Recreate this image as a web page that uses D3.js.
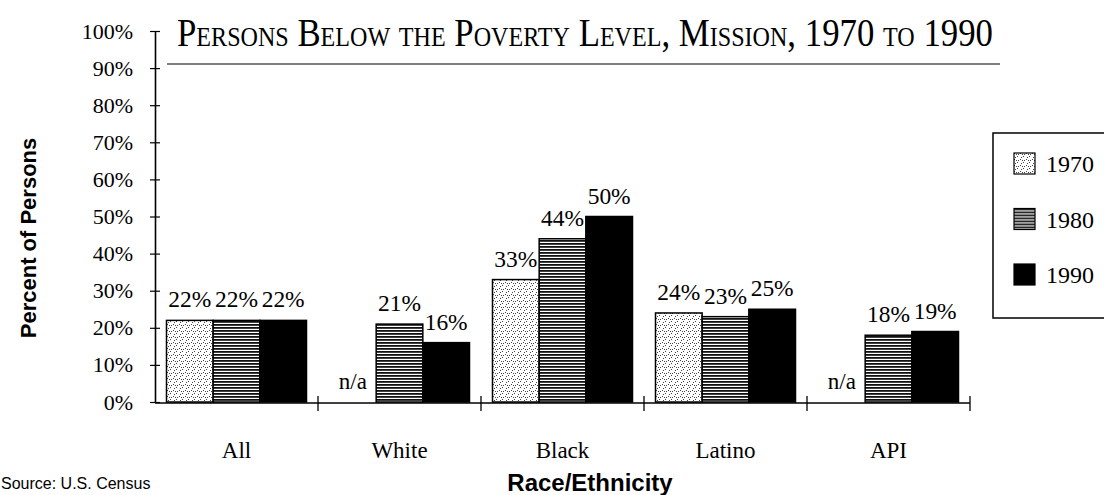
<!DOCTYPE html>
<html>
<head>
<meta charset="utf-8">
<script src="https://cdn.jsdelivr.net/npm/d3@7"></script>
<style>
  html, body { margin: 0; padding: 0; background: #fff; }
  svg { display: block; }
</style>
</head>
<body>
<svg id="chart" width="1104" height="495"></svg>
<script>
const categories = ["All", "White", "Black", "Latino", "API"];
const years = ["1970", "1980", "1990"];
const values1970 = [22, null, 33, 24, null];
const values1980 = [22, 21, 44, 23, 18];
const values1990 = [22, 16, 50, 25, 19];
const yTicks = [0, 10, 20, 30, 40, 50, 60, 70, 80, 90, 100];
const title = "Persons Below the Poverty Level, Mission, 1970 to 1990";
const yTitle = "Percent of Persons";
const xTitle = "Race/Ethnicity";
const source = "Source: U.S. Census";

const series = [values1970, values1980, values1990];
const serif = "'Liberation Serif', 'Times New Roman', serif";
const sans = "'Liberation Sans', Arial, sans-serif";

const svg = d3.select("#chart");
const defs = svg.append("defs");

// 1970 stipple pattern
const p1 = defs.append("pattern").attr("id", "pat1970").attr("patternUnits", "userSpaceOnUse")
  .attr("width", 6).attr("height", 6);
p1.append("rect").attr("width", 6).attr("height", 6).attr("fill", "#fff");
[[0,0],[3,3],[1,4],[4,1],[2,1]].forEach(([x,y]) => p1.append("rect").attr("x", x).attr("y", y)
  .attr("width", 1).attr("height", 1).attr("fill", "#444"));
// 1980 horizontal stripes
const p2 = defs.append("pattern").attr("id", "pat1980").attr("patternUnits", "userSpaceOnUse")
  .attr("width", 6).attr("height", 3);
p2.append("rect").attr("width", 6).attr("height", 3).attr("fill", "#fff");
p2.append("rect").attr("width", 6).attr("height", 1.8).attr("fill", "#111");
const fills = ["url(#pat1970)", "url(#pat1980)", "#000"];

const x0 = 155, x1 = 970, yBase = 402, yTop = 31;
const x = d3.scaleBand().domain(categories).range([x0, x1]).paddingInner(0).paddingOuter(0);
const xs = d3.scaleBand().domain(years).range([11.5, x.bandwidth() - 11.5]).padding(0);
const y = d3.scaleLinear().domain([0, 100]).range([yBase, yTop]);

// Title
svg.append("text")
  .attr("x", 177).attr("y", 46)
  .attr("font-family", serif).attr("font-size", 39)
  .style("font-variant", "small-caps")
  .attr("textLength", 816).attr("lengthAdjust", "spacingAndGlyphs")
  .attr("fill", "#000")
  .text(title);
svg.append("line").attr("x1", 167).attr("x2", 1000).attr("y1", 64).attr("y2", 64)
  .attr("stroke", "#000").attr("stroke-width", 1.2);

// Y axis
const yAxis = svg.append("g").attr("transform", `translate(${x0},0)`)
  .call(d3.axisLeft(y).tickValues(yTicks).tickFormat(d => d + "%").tickSize(5).tickSizeOuter(0).tickPadding(17));
yAxis.select(".domain").attr("stroke", "#000").attr("stroke-width", 1.6);
yAxis.selectAll(".tick line").attr("x1", 5).attr("stroke", "#000").attr("stroke-width", 1.2);
yAxis.selectAll(".tick text").attr("font-family", serif).attr("font-size", 22).attr("fill", "#000");

// Bars
const groups = svg.append("g").selectAll("g").data(categories).join("g")
  .attr("transform", d => `translate(${x(d)},0)`);
years.forEach((yr, si) => {
  groups.each(function(cat, ci) {
    const v = series[si][ci];
    const g = d3.select(this);
    if (v === null) {
      g.append("text").attr("x", xs(yr) + xs.bandwidth() / 2).attr("y", yBase - 13)
        .attr("text-anchor", "middle").attr("font-family", serif).attr("font-size", 23)
        .text("n/a");
      return;
    }
    g.append("rect").attr("x", xs(yr)).attr("y", y(v))
      .attr("width", xs.bandwidth()).attr("height", yBase - y(v))
      .attr("fill", fills[si]).attr("stroke", "#000").attr("stroke-width", 1.5);
    g.append("text").attr("x", xs(yr) + xs.bandwidth() / 2).attr("y", y(v) - 13)
      .attr("text-anchor", "middle").attr("font-family", serif).attr("font-size", 23)
      .attr("textLength", 43).attr("lengthAdjust", "spacingAndGlyphs")
      .text(v + "%");
  });
});

// X axis
svg.append("line").attr("x1", x0).attr("x2", x1).attr("y1", yBase + 1).attr("y2", yBase + 1)
  .attr("stroke", "#000").attr("stroke-width", 1.6);
const bounds = categories.map(c => x(c)).concat([x1]).slice(1);
svg.append("g").selectAll("line").data(bounds).join("line")
  .attr("x1", d => d).attr("x2", d => d).attr("y1", yBase - 6).attr("y2", yBase + 9)
  .attr("stroke", "#000").attr("stroke-width", 1.3);
svg.append("g").selectAll("text").data(categories).join("text")
  .attr("x", d => x(d) + x.bandwidth() / 2).attr("y", 458)
  .attr("text-anchor", "middle").attr("font-family", serif).attr("font-size", 23)
  .text(d => d);

// Axis titles
svg.append("text").attr("transform", "translate(36,238) rotate(-90)")
  .attr("text-anchor", "middle").attr("font-family", sans).attr("font-weight", "bold")
  .attr("font-size", 22).text(yTitle);
svg.append("text").attr("x", 590).attr("y", 491)
  .attr("text-anchor", "middle").attr("font-family", sans).attr("font-weight", "bold")
  .attr("font-size", 24).text(xTitle);
svg.append("text").attr("x", 1).attr("y", 489)
  .attr("font-family", sans).attr("font-size", 16).text(source);

// Legend
svg.append("rect").attr("x", 993).attr("y", 133).attr("width", 130).attr("height", 185)
  .attr("fill", "none").attr("stroke", "#000").attr("stroke-width", 1.5);
const leg = svg.append("g").selectAll("g").data(years).join("g")
  .attr("transform", (d, i) => `translate(1014,${153 + i * 55.5})`);
leg.append("rect").attr("width", 21).attr("height", 21)
  .attr("fill", (d, i) => fills[i]).attr("stroke", "#000").attr("stroke-width", 1.2);
leg.append("text").attr("x", 32).attr("y", 19)
  .attr("font-family", serif).attr("font-size", 24).text(d => d);
</script>
</body>
</html>
